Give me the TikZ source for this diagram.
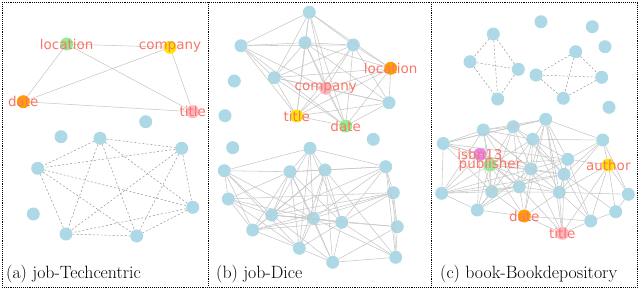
\documentclass[tikz,border=0pt]{standalone}
\usepackage{fontspec}
\newfontfamily\labfont{DejaVu Sans}
\definecolor{nodeblue}{RGB}{173,216,230}
\definecolor{nodegreen}{RGB}{144,238,144}
\definecolor{nodeyellow}{RGB}{255,228,0}
\definecolor{nodeorange}{RGB}{255,160,0}
\definecolor{nodepink}{RGB}{255,182,193}
\definecolor{nodeviolet}{RGB}{232,130,232}
\definecolor{labred}{RGB}{250,118,104}
\begin{document}
\begin{tikzpicture}[
    x=1pt, y=-1pt,
    every node/.style={circle, fill=nodeblue, inner sep=0pt, minimum size=13pt},
    link/.style={draw=black!22, line width=0.55pt},
    dlink/.style={draw=black!45, line width=0.45pt, dash pattern=on 2pt off 2pt},
    lab/.style={rectangle, fill=none, inner sep=0pt, minimum size=0pt, text=labred,
        font=\labfont\fontsize{13.5}{14}\selectfont},
    captxt/.style={rectangle, fill=none, inner sep=0pt, minimum size=0pt, anchor=west,
        font=\fontsize{17.8}{20}\selectfont},
    frame/.style={line width=0.9pt, densely dotted}
]
\useasboundingbox (0,0) rectangle (640,290);

\draw[frame] (2,2) rectangle (637,287);
\draw[frame] (208.5,2) -- (208.5,287);
\draw[frame] (431,2) -- (431,287);

% (a) job-Techcentric
\node[fill=nodegreen]  (loca)   at (66.7,44)    {};
\node[fill=nodeyellow] (compa)  at (170,47.3)   {};
\node[fill=nodeorange] (datea)  at (23.3,101.7) {};
\node[fill=nodepink]   (titlea) at (192.7,111.7) {};

\node (ia1) at (145.7,121.7) {};
\node (ia2) at (61,136.7)    {};
\node (ia3) at (33.3,214)    {};

\node (a1) at (100,138.3)   {};
\node (a2) at (181.7,148.3) {};
\node (a3) at (37.7,168.3)  {};
\node (a4) at (192.7,207.3) {};
\node (a5) at (66,234)      {};
\node (a6) at (136.7,236)   {};

\draw[link] (loca) edge (compa) edge (datea) edge (titlea);
\draw[link] (compa) edge (datea) edge (titlea);
\draw[link] (datea) edge (titlea);

\draw[dlink] (a1) edge (a2) edge (a3) edge (a4) edge (a5) edge (a6);
\draw[dlink] (a2) edge (a3) edge (a4) edge (a5) edge (a6);
\draw[dlink] (a3) edge (a4) edge (a5) edge (a6);
\draw[dlink] (a4) edge (a5) edge (a6);
\draw[dlink] (a5) edge (a6);

\node[lab] (loclab-a)   at (loca)   {location};
\node[lab] (complab-a)  at (compa)  {company};
\node[lab] (datelab-a)  at (datea)  {date};
\node[lab] (titlelab-a) at (titlea) {title};

\node[captxt] (cap-a) at (6,274) {(a) job-Techcentric};

% (b) job-Dice
\node (b1) at (309.3,12.3) {};
\node (b2) at (241,45.7)   {};
\node (b3) at (305,42.7)   {};
\node (b4) at (353.3,45)   {};
\node (b5) at (274.3,77.7) {};
\node (b6) at (389,102.7)  {};
\node[fill=nodeorange] (locb)   at (390.7,68.3) {};
\node[fill=nodepink]   (compb)  at (325.7,88.3) {};
\node[fill=nodeyellow] (titleb) at (296.7,116)  {};
\node[fill=nodegreen]  (dateb)  at (345.7,126)  {};

\node (ib1) at (234.3,81)    {};
\node (ib2) at (225,115.7)   {};
\node (ib3) at (373.3,139.3) {};
\node (ib4) at (232.7,147.7) {};

\node (m1)  at (310,148.3)   {};
\node (m2)  at (224.3,170.7) {};
\node (m3)  at (290,171.7)   {};
\node (m4)  at (325,170)     {};
\node (m5)  at (385.7,166.7) {};
\node (m6)  at (228.3,199)   {};
\node (m7)  at (393.3,192.7) {};
\node (m8)  at (271.7,215)   {};
\node (m9)  at (313.3,218.3) {};
\node (m10) at (341.7,222.3) {};
\node (m11) at (252.7,230)   {};
\node (m12) at (397.3,226.7) {};
\node (m13) at (299.3,248.3) {};
\node (m14) at (332.7,262.3) {};
\node (m15) at (395.7,257.3) {};

\draw[link] (b1) edge (b2) edge (b3) edge (b4) edge (b5) edge (locb) edge (compb) edge (titleb) edge (dateb);
\draw[link] (b2) edge (b3) edge (b4) edge (b5) edge (compb) edge (titleb) edge (dateb);
\draw[link] (b3) edge (b4) edge (b5) edge (b6) edge (locb) edge (compb) edge (titleb) edge (dateb);
\draw[link] (b4) edge (b5) edge (b6) edge (locb) edge (compb) edge (titleb) edge (dateb);
\draw[link] (b5) edge (b6) edge (locb) edge (compb) edge (titleb) edge (dateb);
\draw[link] (b6) edge (locb) edge (compb) edge (titleb) edge (dateb);
\draw[link] (locb) edge (compb) edge (titleb) edge (dateb);
\draw[link] (compb) edge (titleb) edge (dateb);
\draw[link] (titleb) edge (dateb);

\draw[link] (m1) edge (m2) edge (m3) edge (m4) edge (m5) edge (m8) edge (m9) edge (m10) edge (m13);
\draw[link] (m2) edge (m3) edge (m6) edge (m8) edge (m9) edge (m11) edge (m13);
\draw[link] (m3) edge (m4) edge (m6) edge (m8) edge (m9) edge (m10) edge (m11) edge (m13) edge (m14);
\draw[link] (m4) edge (m5) edge (m8) edge (m9) edge (m10) edge (m11) edge (m13) edge (m14) edge (m15);
\draw[link] (m5) edge (m3) edge (m7) edge (m8) edge (m9) edge (m10) edge (m12) edge (m15);
\draw[link] (m6) edge (m7) edge (m8) edge (m9) edge (m11) edge (m13);
\draw[link] (m7) edge (m8) edge (m9) edge (m10) edge (m11) edge (m12) edge (m15);
\draw[link] (m8) edge (m9) edge (m10) edge (m11) edge (m12) edge (m14);
\draw[link] (m9) edge (m10) edge (m11) edge (m13) edge (m14) edge (m15);
\draw[link] (m10) edge (m11) edge (m12) edge (m13) edge (m14) edge (m15);
\draw[link] (m11) edge (m13);
\draw[link] (m12) edge (m14) edge (m15);
\draw[link] (m13) edge (m14);
\draw[link] (m14) edge (m15);

\node[lab] (loclab-b)   at (locb)   {location};
\node[lab] (complab-b)  at (compb)  {company};
\node[lab] (titlelab-b) at (titleb) {title};
\node[lab] (datelab-b)  at (dateb)  {date};

\node[captxt] (cap-b) at (216,274) {(b) job-Dice};

% (c) book-Bookdepository
\node (ic1) at (541,21.7)  {};
\node (ic2) at (592.3,26.7) {};
\node (ic3) at (605,46.7)  {};
\node (ic4) at (609,107.3) {};

\node (p1) at (493.3,34)   {};
\node (p2) at (470,61.7)   {};
\node (p3) at (518.3,69.3) {};
\node (p4) at (497.7,99)   {};

\node (q1) at (575.7,51.7) {};
\node (q2) at (536,75)     {};
\node (q3) at (601.7,77.3) {};
\node (q4) at (563.3,98.3) {};

\draw[dlink] (p1) edge (p2) edge (p3) edge (p4);
\draw[dlink] (p2) edge (p3) edge (p4);
\draw[dlink] (p3) edge (p4);

\draw[dlink] (q1) edge (q2) edge (q3) edge (q4);
\draw[dlink] (q2) edge (q3) edge (q4);
\draw[dlink] (q3) edge (q4);

\node (c1)  at (483.3,130)   {};
\node (c2)  at (513.3,126.7) {};
\node (c3)  at (545.7,119.3) {};
\node (c4)  at (443.3,143.5) {};
\node (c5)  at (532.7,139.3) {};
\node (c6)  at (602.7,140)   {};
\node (c7)  at (567.7,159.3) {};
\node (c8)  at (531,169)     {};
\node (c9)  at (564,174.3)   {};
\node (c10) at (441.7,193.3) {};
\node (c11) at (491.7,191.7) {};
\node (c12) at (519.3,186.7) {};
\node (c13) at (559.3,192.3) {};
\node (c14) at (628.3,194.3) {};
\node (c15) at (477.3,210)   {};
\node (c16) at (615.7,211.7) {};
\node (c17) at (590.7,221)   {};
\node[fill=nodeviolet] (isbnc)  at (480,154.3)   {};
\node[fill=nodegreen]  (pubc)   at (490,165)     {};
\node[fill=nodeyellow] (authc)  at (608.3,165)   {};
\node[fill=nodeorange] (datec)  at (524.3,216)   {};
\node[fill=nodepink]   (titlec) at (562.3,233.3) {};

\draw[link] (c4) edge (c1) edge (c2) edge (c3) edge (isbnc) edge (pubc) edge (c10) edge (c11) edge (c8) edge (c7);
\draw[link] (c1) edge (c2) edge (c3) edge (c5) edge (pubc) edge (c8) edge (c11) edge (c12) edge (c13) edge (c10);
\draw[link] (c2) edge (c3) edge (c5) edge (pubc) edge (c8) edge (c12) edge (c9) edge (c11);
\draw[link] (c3) edge (c5) edge (c6) edge (c7) edge (c8) edge (c9) edge (c13) edge (datec) edge (titlec);
\draw[link] (c5) edge (c6) edge (c7) edge (pubc) edge (c8) edge (c12) edge (c9) edge (c13) edge (c15);
\draw[link] (c6) edge (c7) edge (authc) edge (c9) edge (c14) edge (c13);
\draw[link] (c7) edge (pubc) edge (c8) edge (c9) edge (authc) edge (c12) edge (c13) edge (c17);
\draw[link] (isbnc) edge (pubc) edge (c10) edge (c11) edge (c15) edge (c12);
\draw[link] (pubc) edge (c8) edge (c10) edge (c11) edge (c12) edge (c13) edge (c15) edge (datec) edge (c9);
\draw[link] (c8) edge (c9) edge (c12) edge (c10) edge (datec) edge (titlec) edge (c15);
\draw[link] (c9) edge (c10) edge (c11) edge (c13) edge (c16) edge (c17) edge (titlec);
\draw[link] (c10) edge (c11) edge (c12) edge (c15);
\draw[link] (c11) edge (c12) edge (c15) edge (datec) edge (c13);
\draw[link] (c12) edge (c13) edge (datec) edge (c15) edge (titlec);
\draw[link] (c13) edge (c14) edge (datec) edge (c17) edge (titlec) edge (authc);
\draw[link] (authc) edge (c14) edge (c16) edge (c17) edge (titlec);
\draw[link] (c14) edge (c16);
\draw[link] (c16) edge (c17);
\draw[link] (datec) edge (titlec) edge (c17) edge (c15);
\draw[link] (c17) edge (titlec);

\node[lab] (isbnlab-c)  at (isbnc)  {isbn13};
\node[lab] (publab-c)   at (pubc)   {publisher};
\node[lab] (authlab-c)  at (authc)  {author};
\node[lab] (datelab-c)  at (datec)  {date};
\node[lab] (titlelab-c) at (titlec) {title};

\node[captxt] (cap-c) at (440,274) {(c) book-Bookdepository};

\end{tikzpicture}
\end{document}
